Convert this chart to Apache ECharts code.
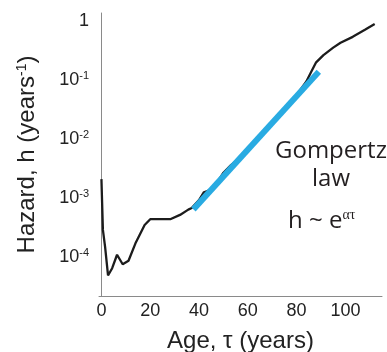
<!DOCTYPE html>
<html>
<head>
<meta charset="utf-8">
<script src="https://cdn.jsdelivr.net/npm/echarts@6/dist/echarts.min.js"></script>
<style>
  html, body { margin: 0; padding: 0; background: #fff; }
  #chart { width: 387px; height: 352px; }
</style>
</head>
<body>
<div id="chart"></div>
<script>
// Human mortality hazard by age (per year), log scale
const ages = [0, 0.6, 1.5, 2.7, 4.4, 6.4, 8.7, 11.1, 13.9, 17.7, 20, 28.2, 32.2, 35.6, 37,
  40, 42, 45, 48, 50, 53, 56, 60, 65, 70, 75, 80, 84, 86, 88, 91, 95, 98, 103, 108, 112];
const hazard = [2.1e-3, 2.9e-4, 1.5e-4, 4.9e-5, 6.5e-5, 1.1e-4, 7.6e-5, 8.7e-5, 1.7e-4, 3.5e-4, 4.4e-4, 4.4e-4, 5.2e-4, 6.4e-4, 6.8e-4,
  9.3e-4, 1.26e-3, 1.4e-3, 2.0e-3, 2.7e-3, 3.6e-3, 4.6e-3, 6.6e-3, 1.1e-2, 1.86e-2, 3.2e-2, 5.6e-2, 9.5e-2, 0.138, 0.2, 0.265, 0.355, 0.43, 0.54, 0.71, 0.89];

// Gompertz fit segment (exponential in age => straight on log axis)
const fitAges = [37.7, 89.1];
const fitHazard = [6.46e-4, 0.138];

// Decade tick labels on the hazard axis
const yTicks = [1e-4, 1e-3, 1e-2, 1e-1, 1];
const xTicks = [0, 20, 40, 60, 80, 100];

const chart = echarts.init(document.getElementById('chart'));

const axisColor = '#8a8a8a';
const textColor = '#222';

chart.setOption({
  animation: false,
  grid: { left: 99, right: 5, top: 13, bottom: 56, outerBoundsMode: 'none', containLabel: false },
  xAxis: {
    type: 'value',
    min: -1,
    max: 115,
    axisLine: { show: true, lineStyle: { color: axisColor, width: 1 } },
    axisTick: { show: false },
    splitLine: { show: false },
    axisLabel: {
      customValues: xTicks,
      color: textColor,
      fontFamily: 'Liberation Sans',
      fontSize: 18,
      margin: 6
    },
    name: 'Age, τ (years)',
    nameLocation: 'middle',
    nameGap: 33,
    nameTextStyle: { color: textColor, fontFamily: 'Liberation Sans', fontSize: 24 }
  },
  yAxis: {
    type: 'log',
    logBase: 10,
    min: 2.2e-5,
    max: 1.37,
    axisLine: { show: true, lineStyle: { color: axisColor, width: 1 } },
    axisTick: { show: false },
    splitLine: { show: false },
    axisLabel: {
      customValues: yTicks,
      margin: 10,
      formatter: function (v) {
        const e = Math.round(Math.log10(v));
        if (e === 0) return '{b|1}';
        return '{b|10}{s|' + e + '}';
      },
      rich: {
        b: { color: textColor, fontFamily: 'Liberation Sans', fontSize: 18 },
        s: { color: textColor, fontFamily: 'Liberation Sans', fontSize: 11, verticalAlign: 'top', padding: [0, 0, 8, 0] }
      }
    },
    name: '{t|Hazard, h (years}{s|-1}{t|)}',
    nameLocation: 'middle',
    nameGap: 60,
    nameTextStyle: {
      rich: {
        t: { color: textColor, fontFamily: 'Liberation Sans', fontSize: 24 },
        s: { color: textColor, fontFamily: 'Liberation Sans', fontSize: 14, padding: [0, 0, 10, 0] }
      }
    }
  },
  series: [
    {
      type: 'line',
      data: ages.map((a, i) => [a, hazard[i]]),
      showSymbol: false,
      lineStyle: { color: '#1c1c1c', width: 2.3 },
      z: 2
    },
    {
      type: 'line',
      data: fitAges.map((a, i) => [a, fitHazard[i]]),
      showSymbol: false,
      lineStyle: { color: '#29abe2', width: 6, cap: 'butt' },
      z: 3
    }
  ],
  graphic: [
    {
      type: 'text',
      left: 275, top: 139,
      style: { text: 'Gompertz', fontFamily: 'Open Sans', fontSize: 24, fill: '#231f20' }
    },
    {
      type: 'text',
      left: 312, top: 167,
      style: { text: 'law', fontFamily: 'Open Sans', fontSize: 24, fill: '#231f20' }
    },
    {
      type: 'text',
      left: 288, top: 208,
      style: {
        text: '{n|h ~ e}{s|ατ}',
        rich: {
          n: { fontFamily: 'Open Sans', fontSize: 24, fill: '#231f20' },
          s: { fontFamily: 'Liberation Serif', fontSize: 14, fill: '#231f20', padding: [0, 0, 13, 0] }
        }
      }
    }
  ]
});
</script>
</body>
</html>
